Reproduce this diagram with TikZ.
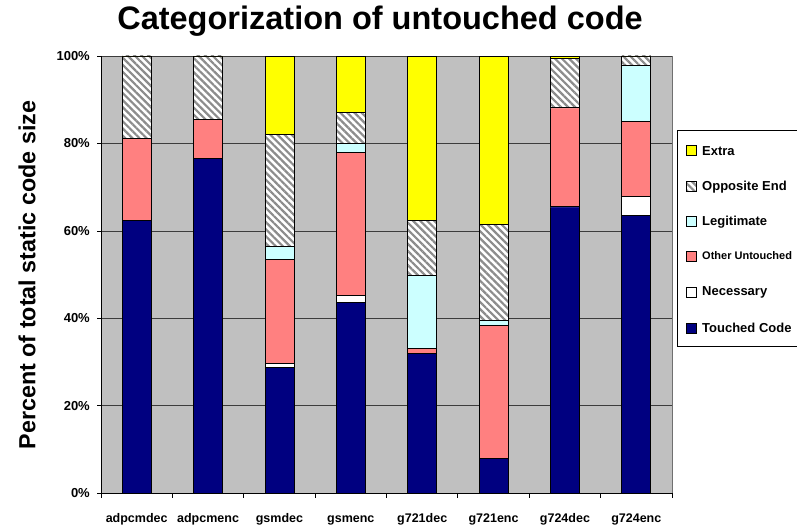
\documentclass[tikz,border=0pt]{standalone}
\usepackage{fontspec}
\setmainfont{Liberation Sans}
\definecolor{touchednavy}{RGB}{0,0,128}
\definecolor{untouchedpink}{RGB}{255,128,128}
\definecolor{legitcyan}{RGB}{204,255,255}
\definecolor{extrayellow}{RGB}{255,255,0}
\definecolor{plotgray}{RGB}{192,192,192}
\definecolor{hatchgray}{RGB}{140,140,140}
\definecolor{gridgray}{RGB}{60,60,60}
\usetikzlibrary{patterns.meta}

\begin{document}
\begin{tikzpicture}[
      x=1pt,
      y=-1pt,
      font=\bfseries,
      seg/.style={draw=black, line width=0.8pt},
      touchedbox/.style={fill=touchednavy},
      necbox/.style={fill=white},
      otherbox/.style={fill=untouchedpink},
      legitbox/.style={fill=legitcyan},
      oppbox/.style={preaction={fill=white},
        pattern={Lines[angle=-45,distance=5pt,line width=2.2pt]},
        pattern color=hatchgray},
      extrabox/.style={fill=extrayellow},
      swatch/.style={draw=black, line width=0.6pt, minimum size=10pt,
        inner sep=0pt},
      legtext/.style={anchor=west, inner sep=0pt,
        font=\bfseries\fontsize{13}{15}\selectfont},
      ticklabel/.style={anchor=east, inner sep=0pt, xshift=-11pt,
        font=\bfseries\fontsize{13}{15}\selectfont},
      benchlabel/.style={anchor=base, inner sep=0pt,
        font=\bfseries\fontsize{12.5}{15}\selectfont}
    ]
    \useasboundingbox[fill=white] (0,0) rectangle (797,529);

    \node[anchor=base, inner sep=0pt, font=\bfseries\fontsize{32.5}{38}\selectfont]
      (title) at (380,30) {Categorization of untouched code};
    \node[rotate=90, inner sep=0pt, font=\bfseries\fontsize{23.3}{28}\selectfont]
      (ylabel) at (27,275) {Percent of total static code size};

    % plot area, one unit per benchmark and per percent
    \begin{scope}[shift={(101,493.3)}, x=71.375pt, y=4.373pt]
      \fill[plotgray] (0,0) rectangle (8,100);
      \draw[hatchgray!80!black] (8,0) -- (8,100);
      \foreach \v in {20,40,...,100}
        \draw[gridgray, line width=0.8pt] (0,\v) -- (8,\v);
      \foreach \v in {0,20,...,100} {
        \draw[line width=0.8pt] (0,\v) -- ++(-4pt,0);
        \node[ticklabel] (t\v) at (0,\v) {\v\%};
      }
      \draw[line width=0.8pt] (0,100) -- (0,0) -- (8,0);
      \foreach \i in {0,...,8}
        \draw[line width=0.8pt] (\i,0) -- ++(0,-5pt);

      \foreach \i/\bench/\tc/\nc/\ou/\lg/\oe in {
          1/adpcmdec/62.5/62.5/81.2/81.2/100,
          2/adpcmenc/76.6/76.6/85.5/85.5/100,
          3/gsmdec/28.9/29.6/53.5/56.5/82.1,
          4/gsmenc/43.6/45.2/78.0/80.0/87.0,
          5/g721dec/32.0/32.0/33.2/49.8/62.3,
          6/g721enc/8.0/8.0/38.3/39.6/61.4,
          7/g724dec/65.5/65.5/88.2/88.2/99.5,
          8/g724enc/63.6/67.8/85.0/97.9/100} {
        \draw[seg, touchedbox] (\i-0.703,0) rectangle (\i-0.297,\tc);
        \draw[seg, necbox] (\i-0.703,\tc) rectangle (\i-0.297,\nc);
        \draw[seg, otherbox] (\i-0.703,\nc) rectangle (\i-0.297,\ou);
        \draw[seg, legitbox] (\i-0.703,\ou) rectangle (\i-0.297,\lg);
        \draw[seg, oppbox] (\i-0.703,\lg) rectangle (\i-0.297,\oe);
        \draw[seg, extrabox] (\i-0.703,\oe) rectangle (\i-0.297,100);
        \node[benchlabel] (b\i) at (\i-0.5,-6.6) {\bench};
      }
    \end{scope}

    % legend
    \draw[line width=0.6pt] (797,130) -- (677,130) -- (677,346) -- (797,346);
    \foreach \y/\kind/\txt in {
        150.7/extrabox/Extra,
        186.7/oppbox/Opposite End,
        221.7/legitbox/Legitimate,
        256.0/otherbox/{\fontsize{11}{13}\selectfont Other Untouched},
        292.7/necbox/Necessary,
        328.0/touchedbox/Touched Code} {
      \node[swatch, \kind] (sw-\kind) at (691.7,\y) {};
      \node[legtext] (lt-\kind) at (702,\y) {\txt};
    }
  \end{tikzpicture}
\end{document}
